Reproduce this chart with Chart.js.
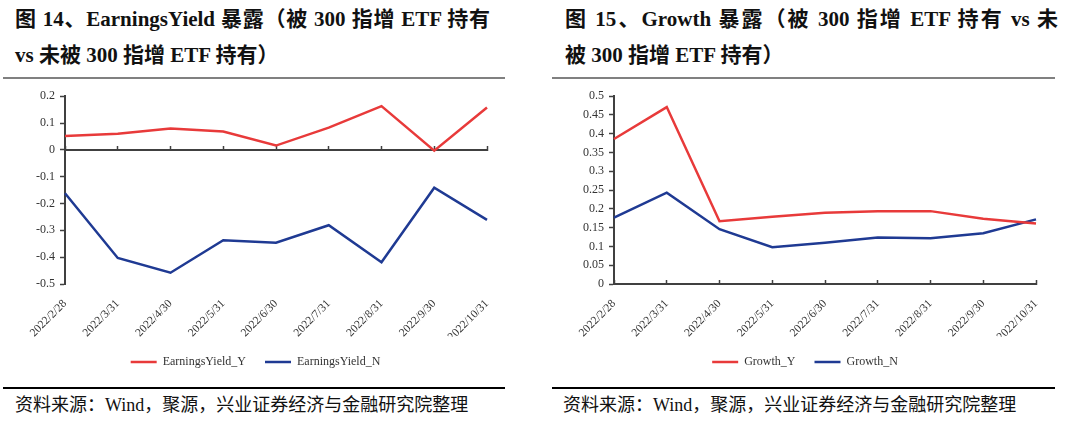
<!DOCTYPE html>
<html><head><meta charset="utf-8">
<script src="https://cdn.jsdelivr.net/npm/chart.js@4/dist/chart.umd.min.js"></script>
<style>
body{margin:0;width:1080px;height:422px;background:#fff;overflow:hidden;position:relative;font-family:"Liberation Serif","Noto Sans CJK SC",serif;}
.title{position:absolute;font-weight:bold;font-size:21px;color:#111;line-height:36px;white-space:nowrap}
.just{text-align:justify;text-align-last:justify;}
.rule{position:absolute;height:2px;background:#808080;top:77px}
.rule2{position:absolute;height:1.5px;background:#000;top:387px}
.src{position:absolute;font-size:18px;color:#111;line-height:24px;top:393px;white-space:nowrap}
.box{position:absolute;top:84px;height:294px;width:540px}
canvas{display:block}
</style></head>
<body>
<div class="title just" style="left:15px;top:1px;width:475px">图 14、EarningsYield 暴露（被 300 指增 ETF 持有</div>
<div class="title" style="left:15px;top:37px">vs 未被 300 指增 ETF 持有）</div>
<div class="rule" style="left:3px;width:502px"></div>
<div class="box" style="left:0"><canvas id="c1" width="540" height="294" style="width:540px;height:294px"></canvas></div>
<div class="rule2" style="left:3px;width:502px"></div>
<div class="src" style="left:15px">资料来源：Wind，聚源，兴业证券经济与金融研究院整理</div>

<div class="title just" style="left:565px;top:1px;width:493px">图 15、Growth 暴露（被 300 指增 ETF 持有 vs 未</div>
<div class="title" style="left:565px;top:37px">被 300 指增 ETF 持有）</div>
<div class="rule" style="left:552px;width:503px"></div>
<div class="box" style="left:540px"><canvas id="c2" width="540" height="294" style="width:540px;height:294px"></canvas></div>
<div class="rule2" style="left:552px;width:503px"></div>
<div class="src" style="left:563px">资料来源：Wind，聚源，兴业证券经济与金融研究院整理</div>

<script>
const categories = ['2022/2/28','2022/3/31','2022/4/30','2022/5/31','2022/6/30','2022/7/31','2022/8/31','2022/9/30','2022/10/31'];
const earningsYieldY = [0.052, 0.060, 0.080, 0.068, 0.016, 0.083, 0.163, -0.003, 0.158];
const earningsYieldN = [-0.162, -0.403, -0.458, -0.337, -0.346, -0.281, -0.419, -0.141, -0.261];
const growthY = [0.386, 0.471, 0.167, 0.179, 0.190, 0.194, 0.194, 0.174, 0.161];
const growthN = [0.177, 0.243, 0.146, 0.098, 0.110, 0.124, 0.122, 0.135, 0.172];
const leftTicks = [-0.5, 0.2, 0.1];   // min, max, step
const rightTicks = [0, 0.5, 0.05];

const RED = '#E83A3A';
const BLUE = '#1F3A93';
const FONT = '"Liberation Serif", "Times New Roman", serif';

function makeChart(id, series, ticks, padL, yW, padR) {
  new Chart(document.getElementById(id), {
    type: 'line',
    data: {
      labels: categories,
      datasets: series.map(s => ({
        label: s.label, data: s.data, borderColor: s.color, backgroundColor: s.color,
        borderWidth: 2.5, pointRadius: 0, tension: 0, fill: false
      }))
    },
    options: {
      responsive: false, animation: false, maintainAspectRatio: false,
      layout: { padding: { left: padL, right: padR, top: 12, bottom: 0 } },
      plugins: {
        legend: {
          position: 'bottom',
          labels: { usePointStyle: true, pointStyle: 'line', pointStyleWidth: 26, padding: 19,
                    color: '#333', font: { family: FONT, size: 12 } }
        },
        tooltip: { enabled: false }
      },
      scales: {
        x: {
          type: 'category', position: { y: 0 }, offset: false,
          ticks: { display: false },
          grid: { drawOnChartArea: false, drawTicks: true, tickLength: -5, color: '#404040', tickWidth: 1.5 },
          border: { display: true, color: '#404040', width: 2 }
        },
        x2: {
          type: 'category', position: 'bottom', offset: false, labels: categories,
          grid: { display: false }, border: { display: false },
          ticks: { minRotation: 45, maxRotation: 45, autoSkip: false, padding: 5,
                   color: '#333', font: { family: FONT, size: 11.5 } },
          afterFit(s) { s.height = 53; }
        },
        y: {
          min: ticks[0], max: ticks[1], position: 'left',
          ticks: { stepSize: ticks[2], padding: 5, color: '#333', font: { family: FONT, size: 12 },
                   callback: v => String(+Number(v).toFixed(2)) },
          grid: { drawOnChartArea: false, tickLength: 5, color: '#404040', tickWidth: 1.5 },
          border: { color: '#404040', width: 2 },
          afterFit(s) { s.width = yW; }
        }
      }
    }
  });
}

makeChart('c1', [
  { label: 'EarningsYield_Y', data: earningsYieldY, color: RED },
  { label: 'EarningsYield_N', data: earningsYieldN, color: BLUE }
], leftTicks, 24, 41, 53);

makeChart('c2', [
  { label: 'Growth_Y', data: growthY, color: RED },
  { label: 'Growth_N', data: growthN, color: BLUE }
], rightTicks, 34, 40, 44);
</script>
</body></html>
